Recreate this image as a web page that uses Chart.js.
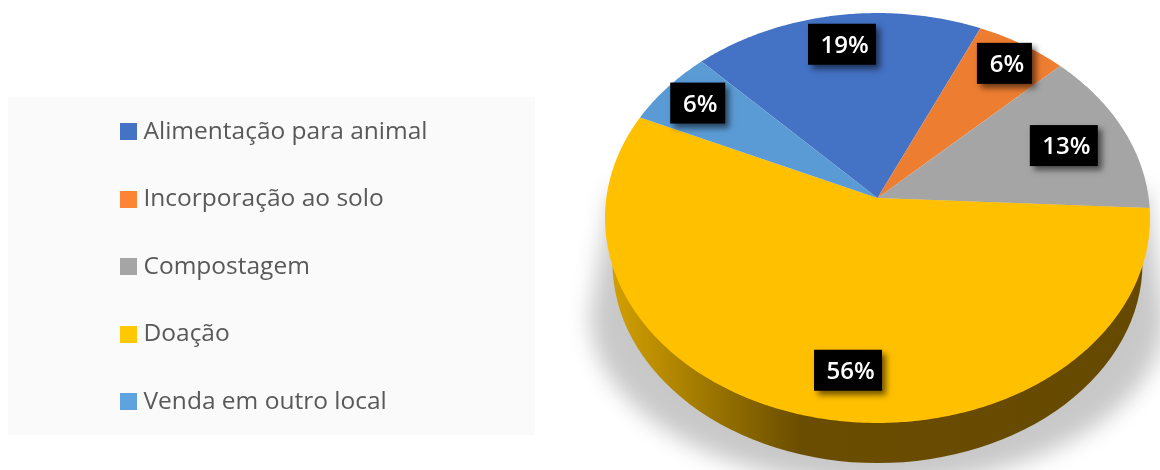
<!DOCTYPE html>
<html lang="pt">
<head>
<meta charset="utf-8">
<title>Destino dos resíduos</title>
<style>
  html, body { margin: 0; padding: 0; background: #fff; }
  #wrap { width: 1160px; height: 470px; position: relative; overflow: hidden; }
</style>
<script src="https://cdn.jsdelivr.net/npm/chart.js@4"></script>
</head>
<body>
<div id="wrap"><canvas id="chart" width="1160" height="470"></canvas></div>
<script>
const categories = ['Alimentação para animal', 'Incorporação ao solo', 'Compostagem', 'Doação', 'Venda em outro local'];
const percentages = [19, 6, 13, 56, 6];
const sliceColors = ['#4472C4', '#ED7D31', '#A5A5A5', '#FFC000', '#5B9BD5'];
const legendColors = ['#4472C4', '#FB8535', '#A5A5A5', '#FFC800', '#5FA3DE'];

// Tilted-disc projection: the near rim is drawn larger than the far rim.
const disc = { cx: 877.5, cy: 198, rx: 271.2, ry: 203, k: 0.0976 };
const wallBase = { cx: 877.5, cy: 263, rx: 265, ry: 200 };

function project(theta, r) {
  const u = Math.sin(theta) * r, v = -Math.cos(theta) * r;
  const w = 1 - disc.k * v;
  return [disc.cx + disc.rx * u / w, disc.cy + disc.ry * v / w];
}

function traceRim(ctx, from, to, r = 1) {
  const steps = Math.max(2, Math.ceil(Math.abs(to - from) / 0.01));
  for (let i = 0; i <= steps; i++) {
    const [x, y] = project(from + (to - from) * i / steps, r);
    ctx.lineTo(x, y);
  }
}

function pieAngles(el) {
  return [el.startAngle + Math.PI / 2, el.endAngle + Math.PI / 2];
}

const tiltedPie = {
  id: 'tiltedPie',
  afterLayout(chart) {
    // Legend column sits inside the pale panel on the left.
    const lg = chart.legend;
    lg.left = 83; lg.top = 76.5; lg.right = 540; lg.bottom = 470;
  },
  beforeDraw(chart) {
    const ctx = chart.ctx;
    ctx.save();
    ctx.fillStyle = '#FAFAFA';
    ctx.fillRect(8, 97, 527, 338);
    ctx.restore();
  },
  beforeDatasetDraw(chart, args) {
    const ctx = chart.ctx;
    const arcs = args.meta.data;
    ctx.save();

    // Floor shadow: the shape is painted off-canvas so only its blur lands here.
    ctx.save();
    const away = 3000;
    ctx.shadowColor = 'rgba(0,0,0,0.215)';
    ctx.shadowBlur = 22;
    ctx.shadowOffsetX = away;
    ctx.fillStyle = '#000';
    ctx.beginPath();
    ctx.moveTo(612 - away, 190);
    ctx.lineTo(1146 - away, 190);
    ctx.lineTo(1165 - away, 315);
    ctx.ellipse(877.5 - away, 315, 287.5, 170, 0, 0, Math.PI);
    ctx.closePath();
    ctx.fill();
    ctx.restore();

    // Side wall of the disc, dark toward the right.
    const wallGrad = ctx.createLinearGradient(605, 0, 1150, 0);
    wallGrad.addColorStop(0, '#D6A200');
    wallGrad.addColorStop(0.1, '#B98C00');
    wallGrad.addColorStop(0.24, '#8D6A00');
    wallGrad.addColorStop(0.36, '#6A4D00');
    wallGrad.addColorStop(1, '#654900');
    ctx.fillStyle = wallGrad;
    ctx.beginPath();
    ctx.ellipse(wallBase.cx, wallBase.cy, wallBase.rx, wallBase.ry, 0, 0, Math.PI);
    ctx.lineTo(wallBase.cx - wallBase.rx, 218);
    ctx.lineTo(wallBase.cx + wallBase.rx, 218);
    ctx.closePath();
    ctx.fill();

    // Top face of the disc, one slice per data value.
    arcs.forEach((el, i) => {
      const [a, b] = pieAngles(el);
      ctx.beginPath();
      ctx.moveTo(disc.cx, disc.cy);
      traceRim(ctx, a, b);
      ctx.closePath();
      ctx.fillStyle = sliceColors[i];
      ctx.fill();
    });
    ctx.restore();
    return false;
  },
  afterDatasetsDraw(chart) {
    const ctx = chart.ctx;
    const arcs = chart.getDatasetMeta(0).data;
    const radial = [0.83, 0.868, 0.753, 0.79, 0.85];
    const nudge = [0, 0, 0, -0.11, 0];
    ctx.save();
    ctx.font = '600 24px "Open Sans"';
    ctx.textAlign = 'center';
    ctx.textBaseline = 'middle';
    arcs.forEach((el, i) => {
      const [a, b] = pieAngles(el);
      const [x, y] = project((a + b) / 2 + nudge[i], radial[i]);
      const text = percentages[i] + '%';
      const w = percentages[i] >= 10 ? 68 : 55;
      const h = 41;
      ctx.save();
      ctx.shadowColor = 'rgba(0,0,0,0.55)';
      ctx.shadowBlur = 6;
      ctx.shadowOffsetX = 4;
      ctx.shadowOffsetY = 4;
      ctx.fillStyle = '#000';
      ctx.fillRect(x - w / 2, y - h / 2, w, h);
      ctx.restore();
      ctx.fillStyle = '#fff';
      ctx.fillText(text, x + 2.5, y + 2);
    });
    ctx.restore();
  }
};

// Square legend swatches, wider than the gap Chart.js leaves before the text.
function swatch(color) {
  const c = document.createElement('canvas');
  c.width = 17; c.height = 17;
  const g = c.getContext('2d');
  g.fillStyle = color;
  g.fillRect(0, 0, 17, 17);
  return c;
}

new Chart(document.getElementById('chart'), {
  type: 'pie',
  data: {
    labels: categories,
    datasets: [{ data: percentages, backgroundColor: sliceColors, borderWidth: 0 }]
  },
  options: {
    responsive: false,
    animation: false,
    rotation: -44,
    plugins: {
      tooltip: { enabled: false },
      legend: {
        display: true,
        position: 'left',
        align: 'start',
        labels: {
          usePointStyle: true,
          pointStyleWidth: 5.25,
          padding: 43,
          color: '#595959',
          font: { family: '"Open Sans"', size: 24.5 },
          generateLabels: () => categories.map((text, i) => ({
            text, index: i, datasetIndex: 0, hidden: false,
            pointStyle: swatch(legendColors[i]),
            fillStyle: legendColors[i], strokeStyle: legendColors[i], lineWidth: 0,
            fontColor: '#595959'
          }))
        }
      }
    }
  },
  plugins: [tiltedPie]
});
</script>
</body>
</html>
